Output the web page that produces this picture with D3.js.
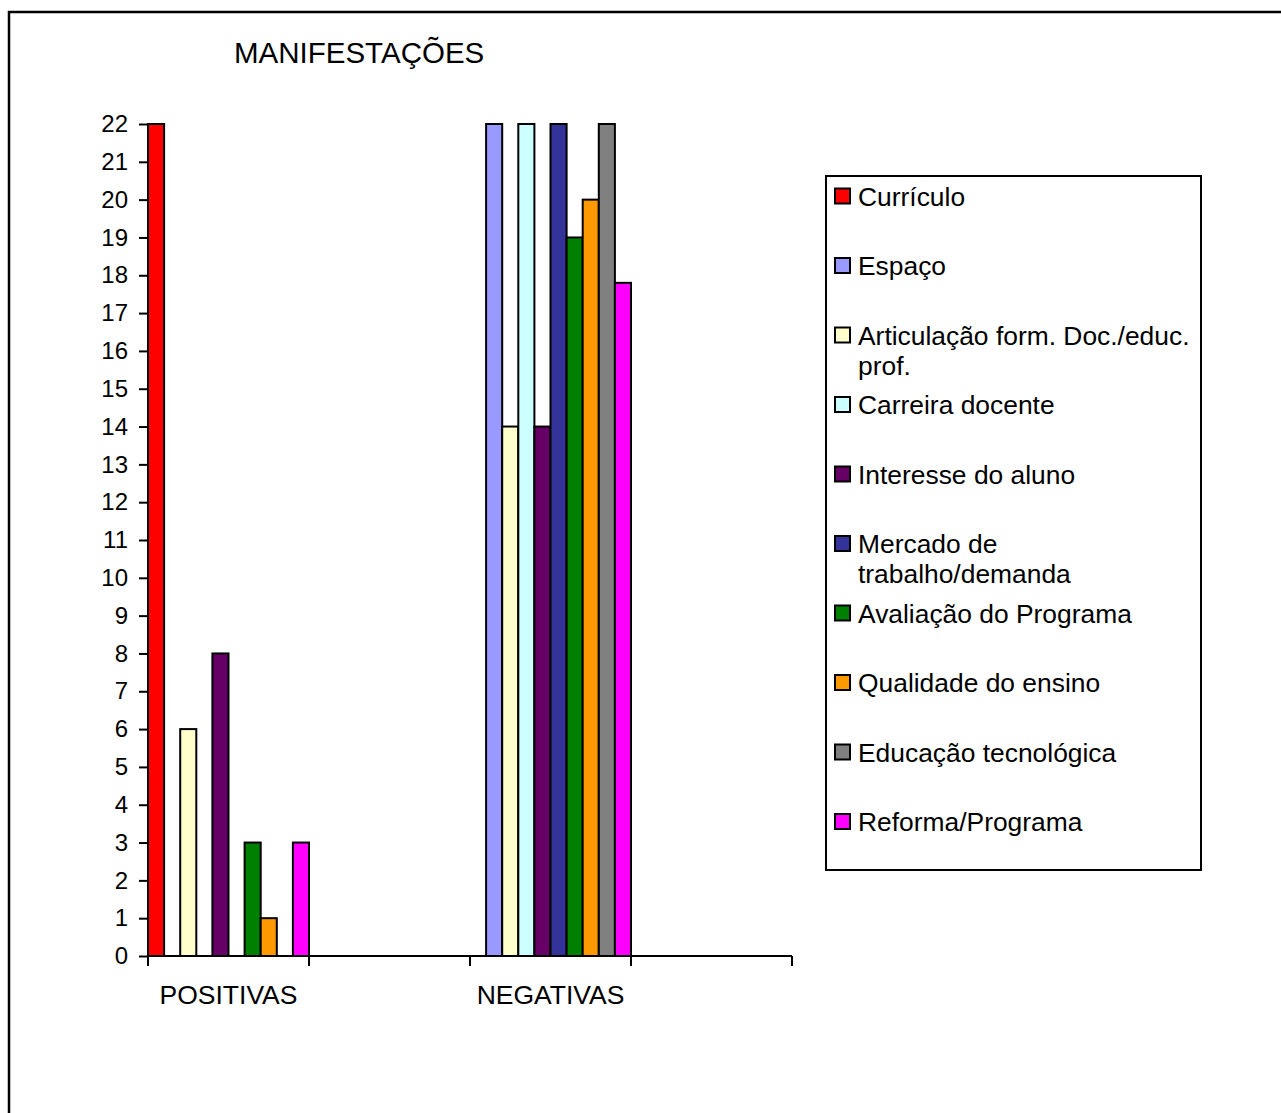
<!DOCTYPE html>
<html>
<head>
<meta charset="utf-8">
<script src="https://cdn.jsdelivr.net/npm/d3@7"></script>
<style>
  html, body { margin: 0; padding: 0; background: #fff; }
  svg { display: block; font-family: "Liberation Sans", Arial, sans-serif; }
</style>
</head>
<body>
<svg id="chart" width="1281" height="1113"></svg>
<script>
// ---- data ----
const title = "MANIFESTAÇÕES";
const categories = ["POSITIVAS", "", "NEGATIVAS", ""];
const seriesNames = [
  "Currículo", "Espaço", "Articulação form. Doc./educ. prof.", "Carreira docente",
  "Interesse do aluno", "Mercado de trabalho/demanda", "Avaliação do Programa",
  "Qualidade do ensino", "Educação tecnológica", "Reforma/Programa"
];
const seriesColors = ["#FF0000", "#9999FF", "#FFFFCC", "#CCFFFF", "#660066",
                      "#333399", "#008000", "#FF9900", "#808080", "#FF00FF"];
const positivas = [22, 0, 6, 0, 8, 0, 3, 1, 0, 3];
const negativas = [0, 22, 14, 22, 14, 22, 19, 20, 22, 17.8];
const yTicks = d3.range(0, 23);

const valuesByCategory = [positivas, null, negativas, null];

// ---- layout ----
const svg = d3.select("#chart");
const plot = { left: 148, right: 792, top: 124, bottom: 956 };

// outer frame
svg.append("rect")
  .attr("x", 9).attr("y", 12).attr("width", 1300).attr("height", 1130)
  .attr("fill", "none").attr("stroke", "#000").attr("stroke-width", 2.5);

// title
svg.append("text")
  .attr("x", 234).attr("y", 63)
  .attr("font-size", 29.5).attr("fill", "#000")
  .text(title);

const catKeys = categories.map((c, i) => i);
const x0 = d3.scaleBand().domain(catKeys).range([plot.left, plot.right]).padding(0);
const x1 = d3.scaleBand().domain(d3.range(seriesNames.length)).range([0, x0.bandwidth()]).padding(0);
const y = d3.scaleLinear().domain([0, 22]).range([plot.bottom, plot.top]);

// bars
const barData = [];
valuesByCategory.forEach((vals, ci) => {
  if (!vals) return;
  vals.forEach((v, si) => { if (v > 0) barData.push({ ci, si, v }); });
});
svg.append("g").selectAll("rect").data(barData).join("rect")
  .attr("x", d => x0(d.ci) + x1(d.si))
  .attr("y", d => y(d.v))
  .attr("width", x1.bandwidth())
  .attr("height", d => y(0) - y(d.v))
  .attr("fill", d => seriesColors[d.si])
  .attr("stroke", "#000").attr("stroke-width", 2);

// y axis
const yAxis = d3.axisLeft(y).tickValues(yTicks).tickSize(9).tickPadding(11).tickFormat(d3.format("d"));
const gy = svg.append("g").attr("transform", `translate(${plot.left},0)`).call(yAxis);
gy.select(".domain").attr("stroke", "#000").attr("stroke-width", 2).attr("d", `M0,${plot.top}V${plot.bottom}`);
gy.selectAll(".tick line").attr("stroke", "#000").attr("stroke-width", 2);
gy.selectAll(".tick text").attr("font-size", 24).attr("fill", "#000")
  .attr("font-family", "'Liberation Sans', Arial, sans-serif");

// x axis
const xAxis = d3.axisBottom(x0).tickSize(0).tickPadding(29).tickFormat(i => categories[i]);
const gx = svg.append("g").attr("transform", `translate(0,${plot.bottom})`).call(xAxis);
gx.select(".domain").attr("stroke", "#000").attr("stroke-width", 2).attr("d", `M${plot.left},0H${plot.right}`);
gx.selectAll(".tick text").attr("font-size", 26.5).attr("fill", "#000")
  .attr("font-family", "'Liberation Sans', Arial, sans-serif");
// category boundary ticks
const bounds = catKeys.map(i => x0(i)).concat([x0(catKeys[catKeys.length - 1]) + x0.bandwidth()]);
gx.selectAll("line.bound").data(bounds).join("line").attr("class", "bound")
  .attr("x1", d => d).attr("x2", d => d).attr("y1", 0).attr("y2", 10)
  .attr("stroke", "#000").attr("stroke-width", 2);

// legend
const lg = { x: 826, y: 176, w: 375, h: 694 };
svg.append("rect").attr("x", lg.x).attr("y", lg.y).attr("width", lg.w).attr("height", lg.h)
  .attr("fill", "#fff").attr("stroke", "#000").attr("stroke-width", 2);
const legendFont = 26.4;
const step = 69.5;
const firstCenter = 196.5;
const maxTextW = 342;
seriesNames.forEach((name, i) => {
  const cy = firstCenter + i * step;
  svg.append("rect")
    .attr("x", 835).attr("y", cy - 8).attr("width", 15).attr("height", 15)
    .attr("fill", seriesColors[i]).attr("stroke", "#000").attr("stroke-width", 2);
  const t = svg.append("text")
    .attr("x", 858).attr("y", cy + 9)
    .attr("font-size", legendFont).attr("fill", "#000");
  // greedy word wrap
  const words = name.split(" ");
  let line = [];
  let ts = t.append("tspan").attr("x", 858).attr("dy", 0);
  words.forEach(w => {
    line.push(w);
    ts.text(line.join(" "));
    if (ts.node().getComputedTextLength() > maxTextW && line.length > 1) {
      line.pop();
      ts.text(line.join(" "));
      line = [w];
      ts = t.append("tspan").attr("x", 858).attr("dy", 30).text(w);
    }
  });
});
</script>
</body>
</html>
